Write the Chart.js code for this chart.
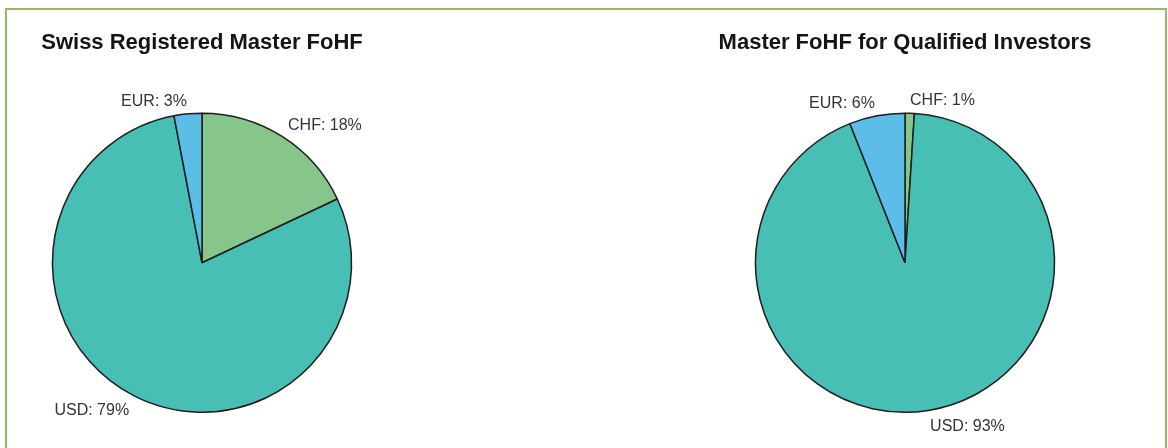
<!DOCTYPE html>
<html>
<head>
<meta charset="utf-8">
<script src="https://cdn.jsdelivr.net/npm/chart.js@4/dist/chart.umd.min.js"></script>
<style>
  body { margin: 0; background: #fff; width: 1168px; height: 448px; overflow: hidden; position: relative; }
  #frame { position: absolute; left: 5px; top: 8px; width: 1162px; height: 460px; border: 2px solid #94b86a; box-sizing: border-box; }
  canvas { position: absolute; top: 0; }
  #left { left: 0; }
  #right { left: 703px; }
</style>
</head>
<body>
<div id="frame"></div>
<canvas id="left" width="404" height="448"></canvas>
<canvas id="right" width="404" height="448"></canvas>
<script>
// Data
var currencies = ['CHF', 'USD', 'EUR'];
var swissRegistered = [18, 79, 3];
var qualifiedInvestors = [1, 93, 6];
var titles = ['Swiss Registered Master FoHF', 'Master FoHF for Qualified Investors'];
var sliceColors = ['#86c68a', '#47bfb4', '#5cbde9'];

// draws "CHF: 18%" style labels just outside each slice
var outsideLabels = {
  id: 'outsideLabels',
  afterDatasetsDraw: function (chart) {
    var ctx = chart.ctx;
    var meta = chart.getDatasetMeta(0);
    var values = chart.data.datasets[0].data;
    ctx.save();
    ctx.font = '16px "Liberation Sans", Arial, sans-serif';
    ctx.fillStyle = '#333';
    meta.data.forEach(function (arc, i) {
      var p = arc.getProps(['x', 'y', 'startAngle', 'endAngle', 'outerRadius'], true);
      var mid = (p.startAngle + p.endAngle) / 2;
      var r = p.outerRadius + 8;
      var cx = p.x + Math.cos(mid) * (r + 3);
      var cy = p.y + Math.sin(mid) * r;
      ctx.textAlign = Math.cos(mid) >= 0 ? 'left' : 'right';
      ctx.textBaseline = Math.sin(mid) < 0 ? 'alphabetic' : 'top';
      ctx.fillText(chart.data.labels[i] + ': ' + values[i] + '%', cx, cy);
    });
    ctx.restore();
  }
};

function makePie(id, title, values) {
  var ctx = document.getElementById(id).getContext('2d');
  return new Chart(ctx, {
    type: 'pie',
    data: {
      labels: currencies,
      datasets: [{
        data: values,
        backgroundColor: sliceColors,
        borderColor: '#1e1e1e',
        borderWidth: 1.5
      }]
    },
    options: {
      responsive: false,
      animation: false,
      devicePixelRatio: 1,
      layout: { padding: { left: 0, right: 0, top: 0, bottom: 35 } },
      plugins: {
        legend: { display: false },
        tooltip: { enabled: false },
        title: {
          display: true,
          text: title,
          color: '#151515',
          font: { family: '"Liberation Sans", Arial, sans-serif', size: 22, weight: 'bold' },
          padding: { top: 30, bottom: 56 }
        }
      }
    },
    plugins: [outsideLabels]
  });
}

makePie('left', titles[0], swissRegistered);
makePie('right', titles[1], qualifiedInvestors);
</script>
</body>
</html>
